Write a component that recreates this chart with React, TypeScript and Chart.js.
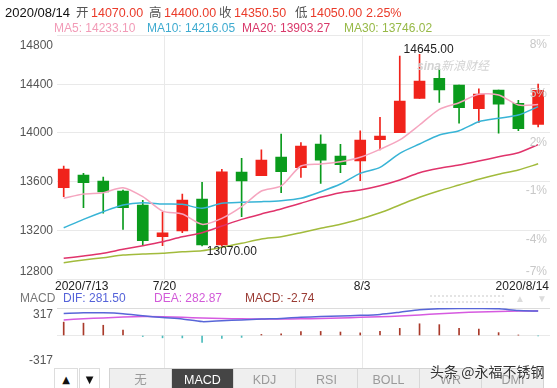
import React, { useEffect, useRef } from "react";
import { Chart, registerables } from "chart.js";
Chart.register(...registerables);

// ---- data ----
const dates = ["2020/7/13","7/14","7/15","7/16","7/17","7/20","7/21","7/22","7/23","7/24","7/27","7/28","7/29","7/30","7/31","8/3","8/4","8/5","8/6","8/7","8/10","8/11","8/12","8/13","2020/8/14"];
const opens = [13550,13654,13605,13523,13408,13147,13194,13457,13080,13679,13648,13802,13714,13909,13810,13769,13944,14002,14284,14448,14393,14199,14352,14243,14070];
const closes = [13703,13591,13515,13386,13115,13180,13449,13079,13680,13605,13777,13681,13892,13777,13739,13942,13974,14262,14426,14352,14207,14319,14235,14034,14350.5];
const highs = [13728,13668,13638,13530,13446,13350,13498,13594,13701,13791,13860,13991,13921,13985,13906,14018,14128,14630,14645,14525,14393,14361,14352,14268,14400];
const lows = [13476,13386,13340,13208,13079,13073,13180,13071,13070,13312,13648,13509,13634,13586,13673,13607,13860,14002,14284,14251,14079,14087,13997,14018,14050];
const ma5 = [13463,13498,13509,13550,13476,13358,13334,13249,13298,13394,13523,13564,13728,13745,13763,13800,13865,13942,14065,14194,14248,14317,14311,14229,14233.1];
const ma10 = [13221,13290,13353,13408,13427,13416,13413,13381,13422,13430,13435,13443,13463,13517,13580,13668,13717,13832,13909,13983,14018,14092,14120,14147,14216.05];
const ma20 = [12970,12989,13011,13044,13073,13106,13147,13180,13235,13290,13334,13375,13422,13471,13509,13531,13566,13613,13673,13709,13736,13769,13804,13837,13903.27];
const ma30 = [12934,12956,12975,12997,13005,13011,13024,13032,13060,13093,13128,13147,13180,13216,13249,13293,13344,13408,13471,13525,13572,13619,13660,13695,13746.02];
const dif = [255,262,262,252,228,207,190,160,170,180,190,197,210,218,225,232,243,268,296,309,312,312,309,288,281.5];
const dea = [180,192,203,213,218,216,210,201,195,192,190,190,192,196,202,209,216,225,237,250,262,271,278,283,282.87];
const macdHist = [154,142,118,63,-12,-27,-28,-80,-33,-22,12,20,45,47,40,30,48,82,135,125,82,74,33,4,-2.74];
const priceTicks = [14800,14400,14000,13600,13200,12800];
const pctTicks = ["8%","5%","2%","-1%","-4%","-7%"];
const xTickIdx = [0,5,15,24];
const gridIdx = [5,15];
const macdMax = 317;
const headerDate = "2020/08/14";
const headerItems: [string, string][] = [["开","14070.00"],["高","14400.00"],["收","14350.50"],["低","14050.00"]];
const headerPct = "2.25%";
const maLegend = ["MA5: 14233.10","MA10: 14216.05","MA20: 13903.27","MA30: 13746.02"];
const macdLegend = ["DIF: 281.50","DEA: 282.87","MACD: -2.74"];
const tabNames = ["无","MACD","KDJ","RSI","BOLL","WR","DMI"];

const RED = "#f0231b";
const GREEN = "#0a9b1c";
const FONT = '"Liberation Sans", Arial, "Noto Sans CJK SC", sans-serif';
const GRID = "#e9e9e9";
const GRID_SHIFT = 0.1;

const xs = dates.map((_, i) => i);
const upColors = xs.map(i => (closes[i] >= opens[i] ? RED : GREEN));

const mainPlugin = {
  id: "mainLabels",
  afterDraw(chart: any) {
    const { ctx, chartArea } = chart;
    const x = chart.scales.x, y = chart.scales.y;
    ctx.save();
    ctx.font = "12px " + FONT;
    ctx.textBaseline = "middle";
    ctx.fillStyle = "#555";
    ctx.textAlign = "right";
    priceTicks.forEach((v, i) => {
      let py = y.getPixelForValue(v);
      if (i === 0) py += 10.5;
      if (i === priceTicks.length - 1) py -= 7;
      ctx.fillText(String(v), 53, py);
    });
    ctx.fillStyle = "#c8c8c8";
    pctTicks.forEach((t, i) => {
      let py = y.getPixelForValue(priceTicks[i]);
      py += i === pctTicks.length - 1 ? -7 : 9.5;
      ctx.fillText(t, 547, py);
    });
    ctx.fillStyle = "#222";
    xTickIdx.forEach((idx, k) => {
      const t = dates[idx];
      if (k === 0) { ctx.textAlign = "left"; ctx.fillText(t, chartArea.left - 2, 287); }
      else if (k === xTickIdx.length - 1) { ctx.textAlign = "right"; ctx.fillText(t, chartArea.right - 1, 287); }
      else { ctx.textAlign = "center"; ctx.fillText(t, x.getPixelForValue(idx + GRID_SHIFT), 287); }
    });
    let hi = 0, lo = 0;
    highs.forEach((v, i) => { if (v > highs[hi]) hi = i; });
    lows.forEach((v, i) => { if (v < lows[lo]) lo = i; });
    ctx.fillStyle = "#222";
    ctx.textAlign = "left";
    ctx.textBaseline = "bottom";
    ctx.fillText(highs[hi].toFixed(2), x.getPixelForValue(hi) - 16, y.getPixelForValue(highs[hi]) + 1);
    ctx.textBaseline = "top";
    ctx.fillText(lows[lo].toFixed(2), x.getPixelForValue(lo) - 15, y.getPixelForValue(lows[lo]));
    ctx.restore();
  },
};

const macdPlugin = {
  id: "macdLabels",
  afterDraw(chart: any) {
    const { ctx } = chart;
    const y = chart.scales.y;
    ctx.save();
    ctx.font = "12px " + FONT;
    ctx.textBaseline = "middle";
    ctx.textAlign = "right";
    ctx.fillStyle = "#555";
    ctx.fillText(String(macdMax), 53, y.getPixelForValue(macdMax) + 7);
    ctx.fillText(String(-macdMax), 53, y.getPixelForValue(-macdMax) - 2.5);
    ctx.restore();
  },
};

const xScaleBase = (min: number, max: number) => ({
  type: "linear" as const,
  min,
  max,
  offset: false,
  afterBuildTicks: (s: any) => { s.ticks = gridIdx.map(v => ({ value: v + GRID_SHIFT })); },
  ticks: { display: false },
  grid: { color: GRID, drawTicks: false, offset: false },
  border: { display: false },
});

function T(props: { x: number; y: number; c: string; s?: number; children: any }) {
  const s = props.s || 12;
  return (
    <div style={{ position: "absolute", left: props.x, top: props.y - 8, height: 16, lineHeight: "16px", fontSize: s, color: props.c, whiteSpace: "nowrap" }}>
      {props.children}
    </div>
  );
}

export default function App() {
  const mainRef = useRef<HTMLCanvasElement>(null);
  const macdRef = useRef<HTMLCanvasElement>(null);

  useEffect(() => {
    const xmin = -0.339, xmax = 24.6;
    const lineDs = (label: string, data: number[], color: string) => ({
      type: "line" as const,
      label,
      data: data.map((v, i) => ({ x: i, y: v })),
      borderColor: color,
      borderWidth: 1.5,
      pointRadius: 0,
      tension: 0.25,
      order: 0,
    });
    const main = new Chart(mainRef.current as HTMLCanvasElement, {
      type: "bar",
      data: {
        datasets: [
          {
            label: "wick",
            data: xs.map(i => ({ x: i, y: [lows[i], highs[i]] })) as any,
            backgroundColor: upColors,
            barThickness: 1,
            grouped: false,
            order: 2,
          } as any,
          {
            label: "body",
            data: xs.map(i => ({ x: i, y: [opens[i], closes[i]] })) as any,
            backgroundColor: upColors,
            barThickness: 11,
            grouped: false,
            minBarLength: 1,
            order: 1,
          } as any,
          lineDs("MA5", ma5, "#f5a5bf"),
          lineDs("MA10", ma10, "#38b4d6"),
          lineDs("MA20", ma20, "#e0336b"),
          lineDs("MA30", ma30, "#a2bb3c"),
        ],
      },
      options: {
        animation: false,
        responsive: false,
        layout: { padding: { left: 57, right: 7, top: 35.5, bottom: 21 } },
        plugins: { legend: { display: false }, tooltip: { enabled: false } },
        scales: {
          x: xScaleBase(xmin, xmax) as any,
          y: {
            type: "linear",
            min: 12800,
            max: 14800,
            ticks: { display: false, stepSize: 400 },
            grid: { color: GRID, drawTicks: false },
            border: { display: false },
          },
        },
      },
      plugins: [mainPlugin],
    });

    const macd = new Chart(macdRef.current as HTMLCanvasElement, {
      type: "bar",
      data: {
        datasets: [
          {
            label: "MACD",
            data: macdHist.map((v, i) => ({ x: i, y: v })),
            backgroundColor: macdHist.map(v => (v >= 0 ? "#a93a2a" : "#4cbcbc")),
            barThickness: 1,
            grouped: false,
            order: 2,
          } as any,
          lineDs("DIF", dif, "#5866d8"),
          lineDs("DEA", dea, "#d65ae0"),
        ],
      },
      options: {
        animation: false,
        responsive: false,
        layout: { padding: { left: 57, right: 7, top: 8, bottom: 0 } },
        plugins: { legend: { display: false }, tooltip: { enabled: false } },
        scales: {
          x: xScaleBase(xmin, xmax) as any,
          y: {
            type: "linear",
            min: -375,
            max: macdMax,
            afterBuildTicks: (s: any) => { s.ticks = [{ value: macdMax }, { value: 0 }]; },
            ticks: { display: false },
            grid: { color: (c: any) => (c.tick && c.tick.value === macdMax ? "#dcdcdc" : GRID), drawTicks: false },
            border: { display: false },
          },
        },
      },
      plugins: [macdPlugin],
    });
    return () => { main.destroy(); macd.destroy(); };
  }, []);

  const hdrCharX = [76, 149, 219, 295];
  const hdrNumX = [91, 164, 234, 310];
  const maX = [54, 147, 242, 344];
  const maC = ["#f29bb7", "#3fabd0", "#d9386a", "#97b947"];
  const macdX = [63, 154, 245];
  const macdC = ["#5563d9", "#d25ad8", "#9a3b34"];

  return (
    <div style={{ position: "fixed", left: 0, top: 0, width: 557, height: 388, overflow: "hidden", background: "#fff", fontFamily: FONT }}>
      <canvas ref={mainRef} width={557} height={300} style={{ position: "absolute", left: 0, top: 0 }} />
      <canvas ref={macdRef} width={557} height={68} style={{ position: "absolute", left: 0, top: 300 }} />

      <T x={5} y={13} c="#111" s={13}>{headerDate}</T>
      {headerItems.map((h, i) => (
        <React.Fragment key={i}>
          <T x={hdrCharX[i]} y={13} c="#555" s={12.5}>{h[0]}</T>
          <T x={hdrNumX[i]} y={13} c="#ea3b2a" s={12.5}>{h[1]}</T>
        </React.Fragment>
      ))}
      <T x={366} y={13} c="#ea3b2a" s={12.5}>{headerPct}</T>
      {maLegend.map((t, i) => <T key={t} x={maX[i]} y={28} c={maC[i]}>{t}</T>)}

      <div style={{ position: "absolute", left: 417, top: 58, fontSize: 12, color: "#d3d3d3", whiteSpace: "nowrap", lineHeight: "16px" }}>
        <span style={{ fontStyle: "italic", fontWeight: "bold" }}>sina</span>
        <span style={{ fontStyle: "italic" }}>新浪财经</span>
      </div>

      <T x={20} y={298} c="#777">MACD</T>
      {macdLegend.map((t, i) => <T key={t} x={macdX[i]} y={298} c={macdC[i]}>{t}</T>)}
      <div style={{ position: "absolute", left: 430, top: 295, width: 74, height: 4, borderTop: "2px dotted #e4e4e4", borderBottom: "2px dotted #e4e4e4" }} />
      <T x={515} y={299} c="#dcdcdc" s={10}>▲</T>
      <T x={537} y={299} c="#dcdcdc" s={10}>▼</T>

      <div style={{ position: "absolute", left: 54, top: 368, width: 24, height: 24, border: "1px solid #ddd", boxSizing: "border-box", background: "#fff", textAlign: "center", lineHeight: "22px", fontSize: 10, fontFamily: '"DejaVu Sans", sans-serif', color: "#111" }}>▲</div>
      <div style={{ position: "absolute", left: 79, top: 368, width: 21, height: 24, border: "1px solid #ddd", boxSizing: "border-box", background: "#fff", textAlign: "center", lineHeight: "22px", fontSize: 10, fontFamily: '"DejaVu Sans", sans-serif', color: "#111" }}>▼</div>
      <div style={{ position: "absolute", left: 109, top: 368, width: 435, height: 24, border: "1px solid #d3d3d3", boxSizing: "border-box", background: "#efefef", display: "flex" }}>
        {tabNames.map((t, i) => (
          <div key={t} style={{ width: 62, flex: "0 0 auto", boxSizing: "border-box", borderRight: i < tabNames.length - 1 ? "1px solid #d8d8d8" : "none", background: t === "MACD" ? "#454545" : "transparent", color: t === "MACD" ? "#fff" : "#9a9a9a", textAlign: "center", lineHeight: "22px", fontSize: 12.5 }}>{t}</div>
        ))}
      </div>
      <div style={{ position: "absolute", left: 430, top: 362, fontSize: 14, lineHeight: "18px", color: "#333", whiteSpace: "nowrap", fontFamily: '"Noto Sans CJK SC", sans-serif', textShadow: "0 0 2px #fff" }}>头条 @永福不锈钢</div>
    </div>
  );
}
